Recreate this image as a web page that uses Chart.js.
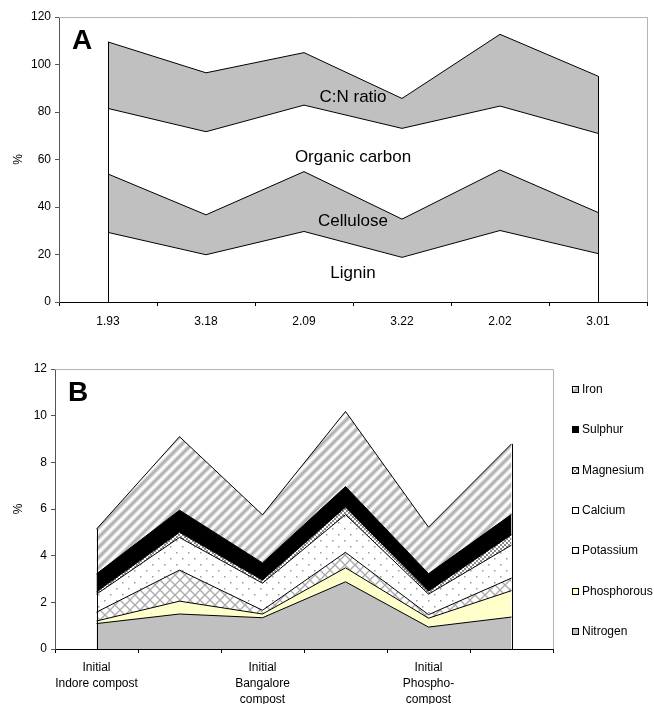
<!DOCTYPE html>
<html>
<head>
<meta charset="utf-8">
<script src="https://cdn.jsdelivr.net/npm/chart.js@4.4.0/dist/chart.umd.min.js"></script>
<style>
html, body { margin: 0; padding: 0; background: #fff; }
#wrapA { position: absolute; left: 0; top: 0; width: 654px; height: 340px; }
#wrapB { position: absolute; left: 0; top: 340px; width: 654px; height: 364px; }
</style>
</head>
<body>
<div id="wrapA"><canvas id="chartA" width="654" height="340"></canvas></div>
<div id="wrapB"><canvas id="chartB" width="654" height="364"></canvas></div>
<script>
// ---- Panel A data (% stacked) ----
var labelsA = ['1.93', '3.18', '2.09', '3.22', '2.02', '3.01'];
var lignin = [29.3, 19.9, 29.7, 18.8, 30.1, 20.4];
var cellulose = [24.6, 16.8, 25.2, 16.1, 25.5, 17.3];
var organicCarbon = [27.6, 35.0, 28.0, 38.2, 26.9, 33.3];
var cnRatio = [28.0, 24.8, 22.1, 12.6, 30.2, 24.1];
// in-plot band names, placed at a y value
var bandNamesA = [
    { text: 'C:N ratio', y: 86.3 },
    { text: 'Organic carbon', y: 61 },
    { text: 'Cellulose', y: 34.1 },
    { text: 'Lignin', y: 12.2 }
];

// ---- Panel B data (% stacked) ----
var labelsB = [['Initial', 'Indore compost'], '', ['Initial', 'Bangalore', 'compost'], '', ['Initial', 'Phospho-', 'compost'], ''];
var nitrogen = [1.09, 1.50, 1.34, 2.88, 0.94, 1.37];
var phosphorous = [0.11, 0.55, 0.16, 0.60, 0.38, 1.13];
var potassium = [0.38, 1.33, 0.16, 0.66, 0.15, 0.54];
var calcium = [0.77, 1.40, 1.16, 1.62, 0.88, 1.41];
var magnesium = [0.10, 0.22, 0.13, 0.32, 0.13, 0.45];
var sulphur = [0.77, 0.95, 0.74, 0.88, 0.75, 0.87];
var iron = [1.92, 3.15, 2.06, 3.22, 1.99, 3.02];

var FONT = '"Liberation Sans", Arial, sans-serif';
Chart.defaults.font.family = FONT;
Chart.defaults.color = '#000';

function makePattern(w, h, draw) {
    var c = document.createElement('canvas');
    c.width = w;
    c.height = h;
    var g = c.getContext('2d');
    g.fillStyle = '#fff';
    g.fillRect(0, 0, w, h);
    draw(g, w, h);
    return g.createPattern(c, 'repeat');
}

// soft upward-diagonal stripes, built pixel by pixel so the tile wraps cleanly
var stripes = makePattern(10, 10, function (g, w, h) {
    var img = g.getImageData(0, 0, w, h);
    for (var y = 0; y < h; y++) {
        for (var x = 0; x < w; x++) {
            var d = ((x + y) % w) / w;
            var v = Math.round(176 + 79 * (0.5 + 0.5 * Math.cos(2 * Math.PI * d)));
            var i = (y * w + x) * 4;
            img.data[i] = img.data[i + 1] = img.data[i + 2] = v;
            img.data[i + 3] = 255;
        }
    }
    g.putImageData(img, 0, 0);
});
var checker = makePattern(4, 4, function (g) {
    g.fillStyle = '#8a8a8a';
    g.fillRect(0, 0, 2, 2);
    g.fillRect(2, 2, 2, 2);
});
var dots = makePattern(12, 12, function (g) {
    g.fillStyle = '#9a9a9a';
    g.fillRect(2, 2, 1.5, 1.5);
    g.fillRect(8, 8, 1.5, 1.5);
});
var hatch = makePattern(10, 10, function (g, w, h) {
    g.strokeStyle = '#ababab';
    g.lineWidth = 1.3;
    for (var o = -w; o <= w; o += w) {
        g.beginPath(); g.moveTo(o, h); g.lineTo(o + w, 0); g.stroke();
        g.beginPath(); g.moveTo(o, 0); g.lineTo(o + w, h); g.stroke();
    }
});

function band(label, data, bg, first) {
    return {
        label: label,
        data: data,
        backgroundColor: bg,
        borderColor: '#000',
        borderWidth: 1,
        pointRadius: 0,
        tension: 0,
        fill: first ? 'origin' : '-1'
    };
}

function axes(yMax, yStep, yWidth, xHeight, xPad) {
    return {
        x: {
            offset: true,
            grid: { offset: true, drawOnChartArea: false, tickLength: 4, color: '#000' },
            border: { color: '#000' },
            ticks: { font: { size: 12, lineHeight: 1.33 }, padding: xPad, maxRotation: 0, autoSkip: false },
            afterFit: function (s) { s.height = xHeight; }
        },
        y: {
            stacked: true,
            min: 0,
            max: yMax,
            grid: { drawOnChartArea: false, tickLength: 4, color: '#555' },
            border: { color: '#555' },
            ticks: { stepSize: yStep, font: { size: 12 }, padding: 4 },
            title: { display: true, text: '%', font: { size: 12 }, padding: { top: 11, bottom: 0 } },
            afterFit: function (s) { s.width = yWidth; }
        }
    };
}

// vertical edges of the stacked area + light frame on top/right
var edgePlugin = {
    id: 'edges',
    afterDatasetsDraw: function (chart) {
        var ctx = chart.ctx;
        var a = chart.chartArea;
        var topMeta = chart.getDatasetMeta(chart.data.datasets.length - 1);
        var y0 = chart.scales.y.getPixelForValue(0);
        ctx.save();
        ctx.strokeStyle = '#b4b4b4';
        ctx.lineWidth = 1;
        ctx.beginPath();
        ctx.moveTo(a.left, a.top + 0.5);
        ctx.lineTo(a.right + 0.5, a.top + 0.5);
        ctx.lineTo(a.right + 0.5, a.bottom);
        ctx.stroke();
        ctx.strokeStyle = '#000';
        [0, topMeta.data.length - 1].forEach(function (i) {
            var p = topMeta.data[i];
            var x = Math.round(p.x) + 0.5;
            ctx.beginPath();
            ctx.moveTo(x, y0);
            ctx.lineTo(x, p.y);
            ctx.stroke();
        });
        ctx.restore();
    }
};

// panel letter and band names
var panelText = {
    id: 'panelText',
    afterDraw: function (chart, args, opts) {
        var ctx = chart.ctx;
        var a = chart.chartArea;
        ctx.save();
        ctx.fillStyle = '#000';
        ctx.textBaseline = 'alphabetic';
        ctx.font = 'bold 28px ' + FONT;
        ctx.fillText(opts.letter, a.left + 13, a.top + 32);
        ctx.font = '17px ' + FONT;
        ctx.textAlign = 'center';
        ctx.textBaseline = 'middle';
        (opts.names || []).forEach(function (n) {
            ctx.fillText(n.text, (a.left + a.right) / 2, chart.scales.y.getPixelForValue(n.y));
        });
        ctx.restore();
    }
};

// legend column on the right, top entry = last dataset
var sideLegend = {
    id: 'sideLegend',
    afterDraw: function (chart, args, opts) {
        if (!opts.show) return;
        var ctx = chart.ctx;
        var a = chart.chartArea;
        var ds = chart.data.datasets;
        ctx.save();
        ctx.font = '12px ' + FONT;
        ctx.textBaseline = 'middle';
        ctx.lineWidth = 1;
        for (var k = ds.length - 1, row = 0; k >= 0; k--, row++) {
            var y = Math.round(a.top + opts.top + row * opts.step);
            var x = Math.round(a.right + opts.gap);
            ctx.fillStyle = ds[k].backgroundColor;
            ctx.fillRect(x, y - 3, 7, 7);
            ctx.strokeStyle = '#000';
            ctx.strokeRect(x + 0.5, y - 2.5, 6, 6);
            ctx.fillStyle = '#000';
            ctx.fillText(ds[k].label, x + 10, y + 1);
        }
        ctx.restore();
    }
};

new Chart(document.getElementById('chartA').getContext('2d'), {
    type: 'line',
    data: {
        labels: labelsA,
        datasets: [
            band('Lignin', lignin, '#ffffff', true),
            band('Cellulose', cellulose, '#c0c0c0'),
            band('Organic carbon', organicCarbon, '#ffffff'),
            band('C:N ratio', cnRatio, '#c0c0c0')
        ]
    },
    options: {
        responsive: false,
        animation: false,
        layout: { padding: { top: 17, right: 7, left: 0, bottom: 0 } },
        scales: axes(120, 20, 59, 38, 8),
        plugins: {
            legend: { display: false },
            tooltip: { enabled: false },
            panelText: { letter: 'A', names: bandNamesA },
            sideLegend: { show: false }
        }
    },
    plugins: [edgePlugin, panelText, sideLegend]
});

new Chart(document.getElementById('chartB').getContext('2d'), {
    type: 'line',
    data: {
        labels: labelsB,
        datasets: [
            band('Nitrogen', nitrogen, '#c0c0c0', true),
            band('Phosphorous', phosphorous, '#ffffcc'),
            band('Potassium', potassium, hatch),
            band('Calcium', calcium, dots),
            band('Magnesium', magnesium, checker),
            band('Sulphur', sulphur, '#000000'),
            band('Iron', iron, stripes)
        ]
    },
    options: {
        responsive: false,
        animation: false,
        layout: { padding: { top: 29, right: 101, left: 0, bottom: 0 } },
        scales: axes(12, 2, 55, 55, 7),
        plugins: {
            legend: { display: false },
            tooltip: { enabled: false },
            panelText: { letter: 'B', names: [] },
            sideLegend: { show: true, top: 20, step: 40.3, gap: 19 }
        }
    },
    plugins: [edgePlugin, panelText, sideLegend]
});
</script>
</body>
</html>
